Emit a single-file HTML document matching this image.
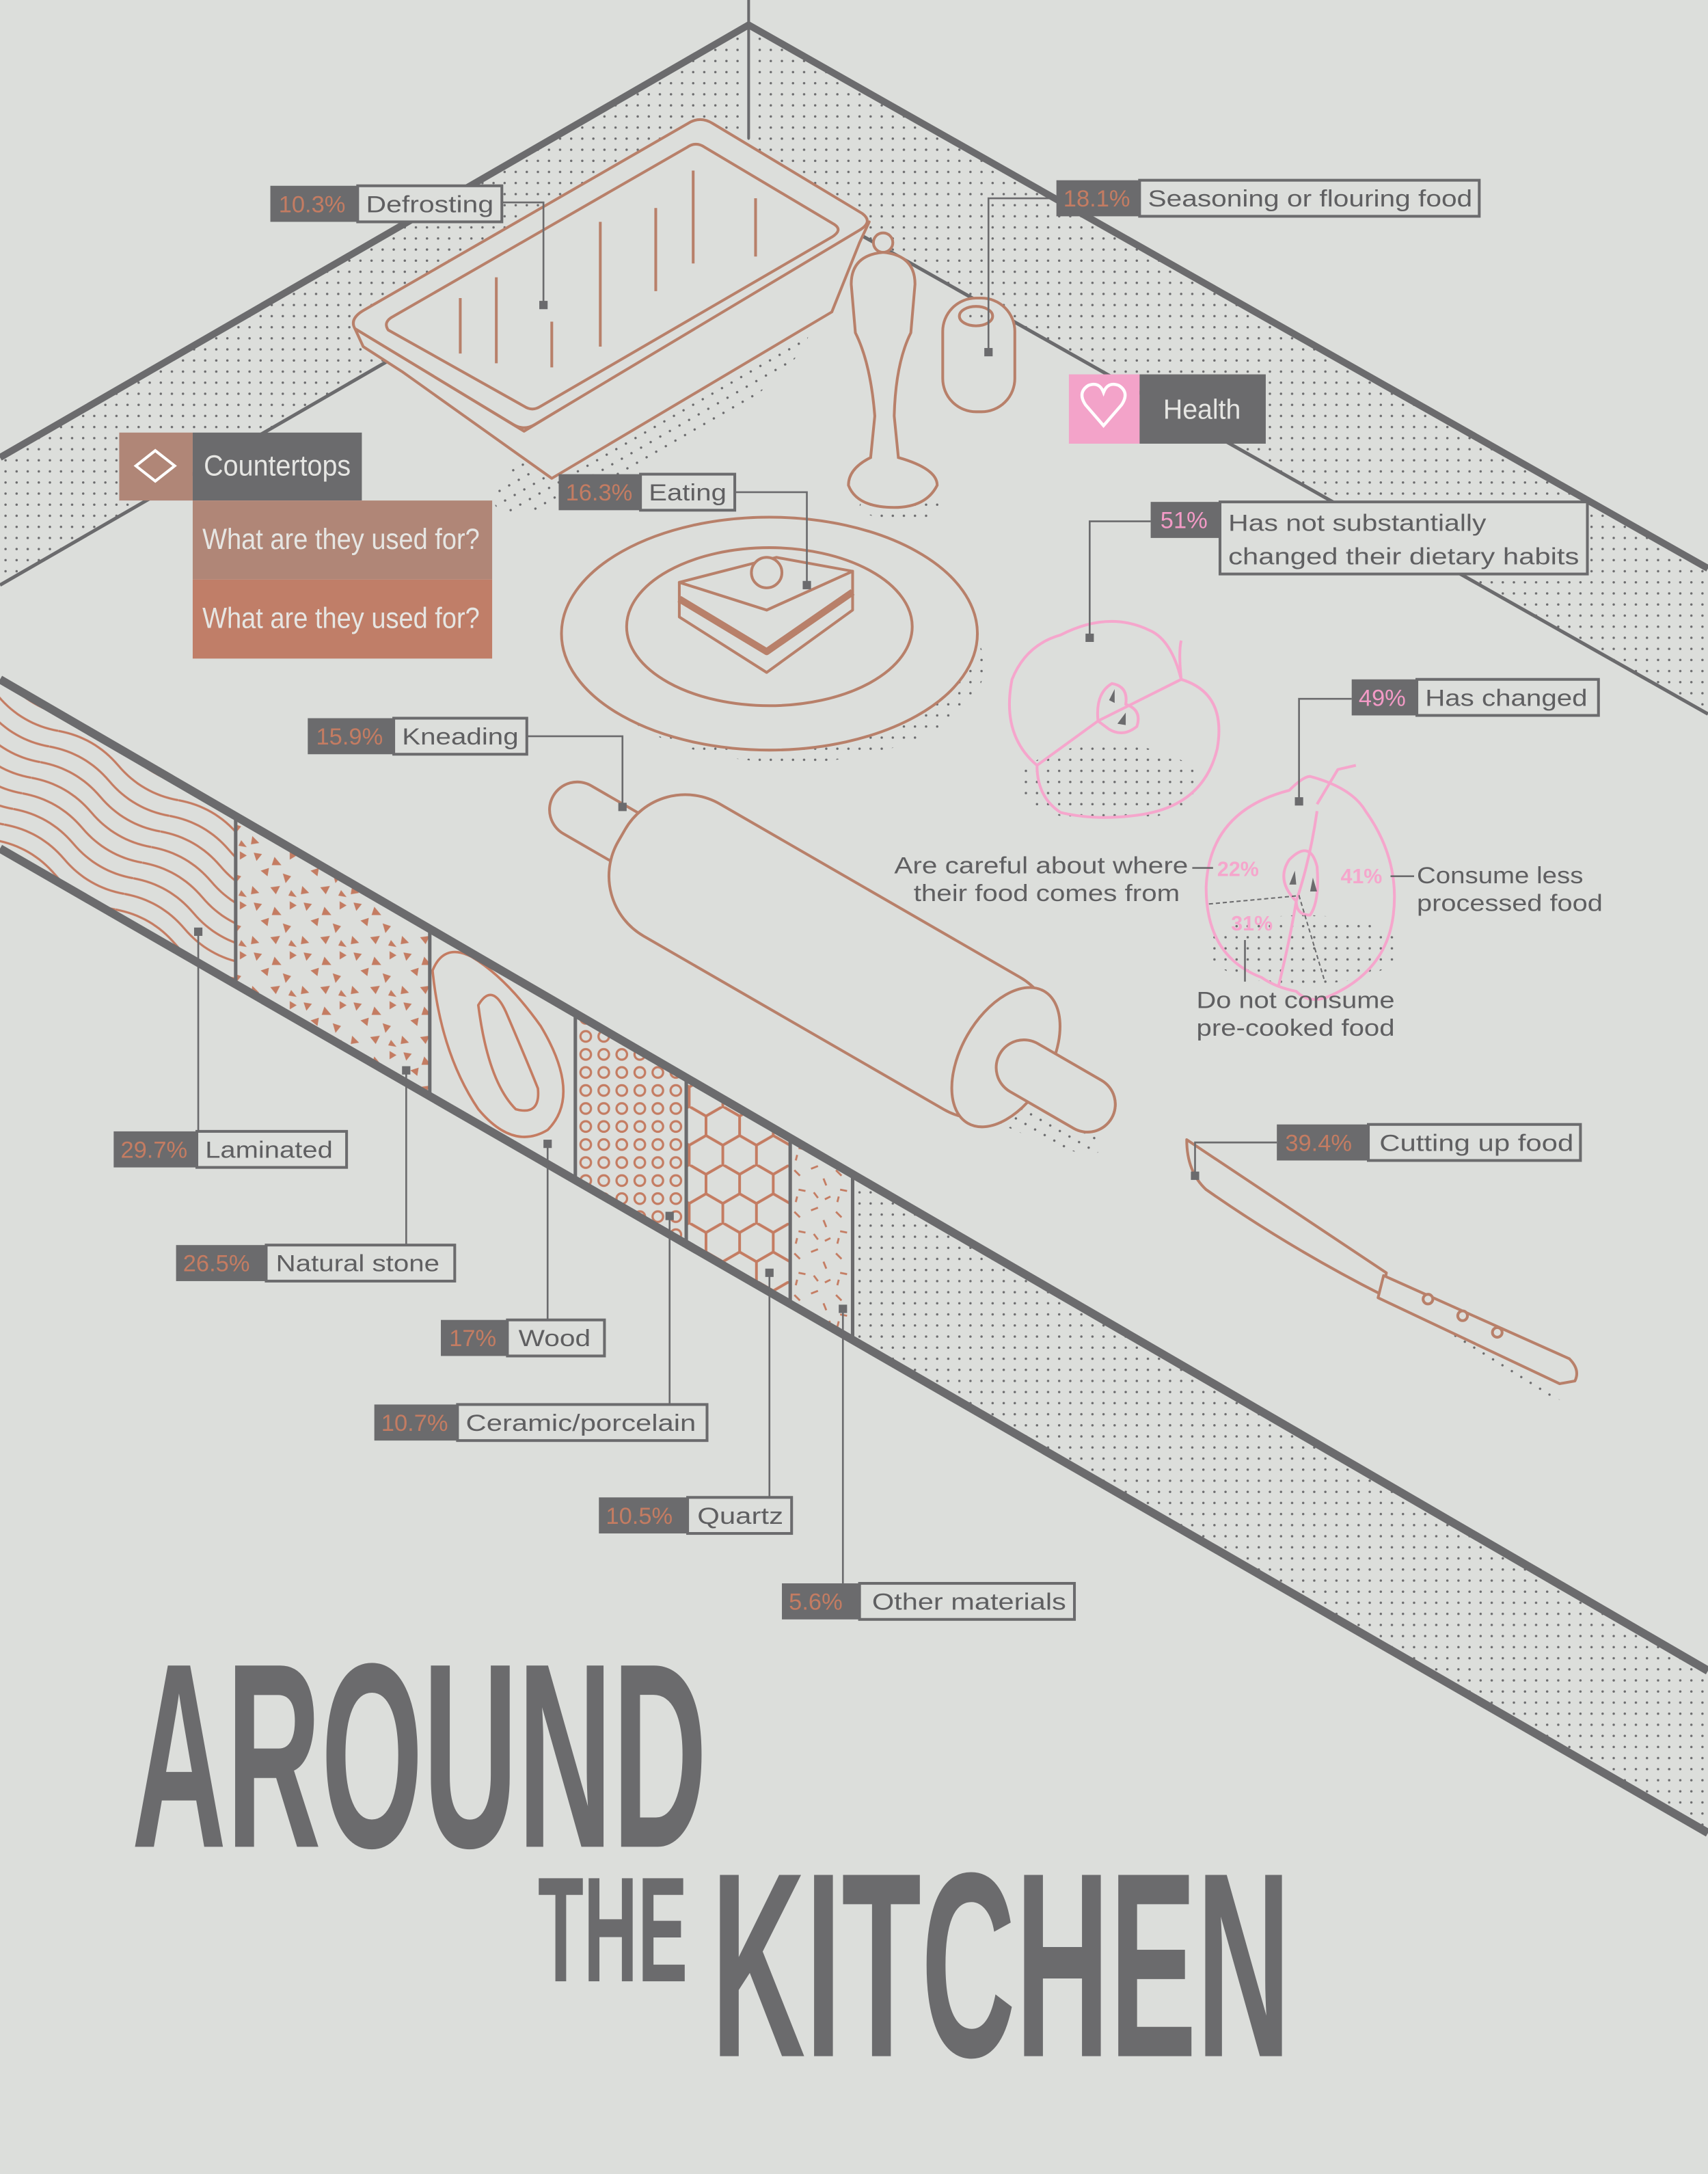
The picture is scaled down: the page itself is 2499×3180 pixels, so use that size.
<!DOCTYPE html>
<html><head><meta charset="utf-8"><style>
html,body{margin:0;padding:0;background:#dcdedb;}
svg{display:block;}
text{font-family:"Liberation Sans",sans-serif;}
.lb{font-size:17px;fill:#5f5f61;}
.pc{font-size:17px;fill:#c47c62;}
.pk{font-size:17px;fill:#f39ac6;}
.nw{font-family:"Liberation Sans",sans-serif;fill:#e6e6e3;}
.tt{font-family:"Liberation Sans",sans-serif;font-weight:bold;fill:#6b6b6d;}
</style></head><body>
<svg width="2499" height="3180" viewBox="0 0 1232 1568" preserveAspectRatio="none" xmlns="http://www.w3.org/2000/svg">
<defs>
<pattern id="dots" width="8" height="8" patternUnits="userSpaceOnUse"><circle cx="4" cy="4" r="0.85" fill="#6b6b6d"/></pattern>
<pattern id="wave" width="100" height="13" patternUnits="userSpaceOnUse" patternTransform="rotate(30)"><path d="M0,6.5 q25,-9 50,0 t50,0" fill="none" stroke="#c47c62" stroke-width="1.6"/></pattern>
<pattern id="circ" width="13" height="13" patternUnits="userSpaceOnUse"><circle cx="6.5" cy="6.5" r="3.8" fill="none" stroke="#c47c62" stroke-width="1.6"/></pattern>
<pattern id="hex" width="42" height="24.25" patternUnits="userSpaceOnUse" patternTransform="rotate(90)"><path d="M0,12.12 L7,0 L21,0 L28,12.12 L21,24.25 L7,24.25 Z M28,12.12 L42,12.12" fill="none" stroke="#c47c62" stroke-width="2"/></pattern>
<pattern id="tri" width="36" height="36" patternUnits="userSpaceOnUse"><g fill="#c47c62"><path d="M3,3 l6,1 l-4,5z"/><path d="M18,6 l5,6 l-7,0z"/><path d="M29,2 l5,3 l-5,3z"/><path d="M8,16 l6,-2 l-1,6z"/><path d="M24,18 l6,2 l-4,5z"/><path d="M2,27 l5,5 l-6,1z"/><path d="M15,28 l7,-1 l-3,6z"/><path d="M30,30 l4,5 l-6,-1z"/></g></pattern>
<pattern id="dash" width="30" height="30" patternUnits="userSpaceOnUse"><g stroke="#c47c62" stroke-width="1.4"><path d="M3,4 l4,4"/><path d="M15,3 l5,-2"/><path d="M24,10 l2,5"/><path d="M6,18 l5,1"/><path d="M17,20 l3,4"/><path d="M25,25 l4,-2"/><path d="M4,27 l1,-4"/></g></pattern>
<clipPath id="strip"><polygon points="0,490 1232,1205 1232,1322 0,612"/></clipPath>
</defs>
<rect width="1232" height="1568" fill="#dcdedb"/>

<polygon points="0,330 540,18 1232,410 1232,515 528,117 0,422" fill="url(#dots)"/>
<path d="M0,330 L540,18 L1232,410" fill="none" stroke="#6b6b6d" stroke-width="5"/>
<path d="M0,422 L528,117 L1232,515" fill="none" stroke="#6b6b6d" stroke-width="2.5"/>
<line x1="540" y1="0" x2="540" y2="100" stroke="#6b6b6d" stroke-width="2"/>

<g clip-path="url(#strip)">
<rect x="615" y="800" width="620" height="600" fill="url(#dots)"/>
<rect x="0" y="480" width="170" height="260" fill="url(#wave)"/>
<rect x="170" y="570" width="140" height="220" fill="url(#tri)"/>
<rect x="415" y="720" width="80" height="200" fill="url(#circ)"/>
<rect x="495" y="770" width="75" height="200" fill="url(#hex)"/>
<rect x="570" y="810" width="45" height="180" fill="url(#dash)"/>
<g fill="none" stroke="#c47c62" stroke-width="1.8">
<path d="M312,700 Q320,680 340,690 Q365,705 390,740 Q420,790 395,815 Q370,830 345,800 Q318,760 312,700Z"/>
<path d="M345,725 Q355,708 365,730 Q380,765 388,785 Q390,805 372,800 Q352,780 345,725Z"/>
</g>
<g stroke="#6b6b6d" stroke-width="2.5"><line x1="170" y1="580" x2="170" y2="720"/><line x1="310" y1="660" x2="310" y2="790"/><line x1="415" y1="720" x2="415" y2="850"/><line x1="495" y1="768" x2="495" y2="900"/><line x1="570" y1="810" x2="570" y2="940"/><line x1="615" y1="840" x2="615" y2="970"/></g>
</g>
<line x1="0" y1="490" x2="1232" y2="1205" stroke="#6b6b6d" stroke-width="6"/>
<line x1="0" y1="612" x2="1232" y2="1322" stroke="#6b6b6d" stroke-width="6"/>

<g fill="url(#dots)">
<ellipse cx="470" cy="300" rx="130" ry="30" transform="rotate(-30 470 300)"/>
<ellipse cx="650" cy="365" rx="30" ry="10"/>
<ellipse cx="570" cy="480" rx="140" ry="70"/>
<ellipse cx="620" cy="730" rx="200" ry="25" transform="rotate(30 620 730)"/>
<ellipse cx="800" cy="565" rx="65" ry="28"/>
<ellipse cx="940" cy="685" rx="70" ry="25"/>
<ellipse cx="1000" cy="930" rx="150" ry="8" transform="rotate(32 1000 930)"/>
</g>

<g fill="#dcdedb" stroke="#b8806a" stroke-width="2" stroke-linejoin="round">
<path d="M262,250 L290,268 L398,345 L600,225 L620,175 L627,160 L378,311 L256,237 Z"/>
<path d="M256,237 Q252,230 262,224 L498,88 Q506,84 514,89 L622,154 Q630,160 620,166 L386,306 Q378,311 370,306 Z"/>
<path d="M280,238 Q276,232 284,228 L496,106 Q502,102 508,106 L602,162 Q608,166 600,171 L390,293 Q384,297 378,293 Z"/>
</g>
<g stroke="#b8806a" stroke-width="2"><line x1="332" y1="215" x2="332" y2="255"/><line x1="358" y1="200" x2="358" y2="262"/><line x1="398" y1="232" x2="398" y2="265"/><line x1="433" y1="160" x2="433" y2="250"/><line x1="473" y1="150" x2="473" y2="210"/><line x1="500" y1="123" x2="500" y2="190"/><line x1="545" y1="143" x2="545" y2="185"/></g>

<g fill="#dcdedb" stroke="#b8806a" stroke-width="2">
<circle cx="637" cy="175" r="7"/>
<path d="M614,205 Q614,184 637,182 Q660,184 660,205 L657,240 Q646,262 645,300 L648,330 Q676,338 676,350 Q668,366 645,366 Q618,366 612,350 Q612,338 628,330 L631,300 Q628,262 617,240 Z"/>
<rect x="680" y="215" width="52" height="82" rx="24"/>
<ellipse cx="704" cy="228" rx="12" ry="7" fill="url(#dots)"/>
</g>

<g fill="#dcdedb" stroke="#b8806a" stroke-width="2" stroke-linejoin="round">
<ellipse cx="555" cy="457" rx="150" ry="84"/>
<ellipse cx="555" cy="452" rx="103" ry="57"/>
<path d="M490,420 L490,445 L553,485 L615,440 L615,412 L553,440 Z"/>
<path d="M490,420 L560,402 L615,412 L553,440 Z"/>
<path d="M490,432 L553,470 L615,427" fill="none" stroke-width="5"/>
<circle cx="553" cy="413" r="11"/>
</g>

<g transform="translate(600,690) rotate(30)" fill="#dcdedb" stroke="#b8806a" stroke-width="2">
<rect x="-232" y="-20" width="465" height="40" rx="20"/>
<rect x="-175" y="-55" width="350" height="110" rx="50"/>
<ellipse cx="145" cy="0" rx="32" ry="55"/>
<rect x="140" y="-20" width="93" height="40" rx="20"/>
</g>

<g fill="#dcdedb" stroke="#b8806a" stroke-width="2" stroke-linejoin="round">
<path d="M856,822 L1000,918 L997,934 Q930,900 870,858 Q856,845 856,822 Z"/>
<path d="M998,920 L1132,980 Q1140,988 1136,996 L1125,998 L994,936 Z"/>
<circle cx="1030" cy="937" r="3.5"/><circle cx="1055" cy="949" r="3.5"/><circle cx="1080" cy="961" r="3.5"/>
</g>

<g fill="none" stroke="#f5a6cc" stroke-width="2" stroke-linejoin="round">
<path d="M765,458 Q800,440 830,455 Q845,462 852,490 Q885,500 878,540 Q868,582 820,588 Q790,592 765,586 Q748,575 748,552 Q722,530 730,490 Q740,465 765,458 Z"/>
<path d="M748,552 L792,520 L852,490"/>
<path d="M852,490 Q850,470 852,462"/>
<path d="M792,520 Q790,500 802,493 Q814,495 812,508 Q824,512 820,524 Q810,532 800,526 Z"/>
<path d="M945,560 Q975,568 985,585 Q1010,620 1005,660 Q1000,700 960,718 Q945,725 935,715 Q920,712 910,705 Q870,690 870,640 Q872,585 930,570 Q940,560 945,560 Z"/>
<path d="M950,580 L965,555 L978,552"/>
<path d="M950,585 Q945,620 935,650 Q930,680 922,712"/>
<path d="M935,650 Q920,635 930,620 Q945,605 950,625 Q952,650 945,660 Q935,660 935,650 Z"/>
</g>
<g fill="#6b6b6d"><path d="M800,505 l4,-8 l0,10z"/><path d="M806,522 l6,-8 l0,9z"/><path d="M930,638 l4,-10 l1,10z"/><path d="M945,643 l2,-10 l3,10z"/></g>
<g stroke="#6b6b6d" stroke-width="1" stroke-dasharray="3,2" fill="none"><path d="M872,652 L937,646 L955,706"/></g>

<g stroke="#6b6b6d" stroke-width="1.3" fill="none">
<path d="M362,146 H392 V220"/><path d="M762,143 H713 V254"/><path d="M530,355 H582 V422"/><path d="M380,531 H449 V582"/>
<path d="M830,376 H786 V460"/><path d="M975,504 H937 V578"/><path d="M921,824 H862 V848"/>
<path d="M143,672 V816"/><path d="M293,772 V898"/><path d="M395,825 V952"/><path d="M483,877 V1013"/><path d="M555,918 V1080"/><path d="M608,944 V1142"/>
<path d="M860,626 H875"/><path d="M1003,632 H1020"/><path d="M898,678 V708"/>
</g>
<g fill="#6b6b6d"><rect x="389" y="217" width="6" height="6"/><rect x="710" y="251" width="6" height="6"/><rect x="579" y="419" width="6" height="6"/><rect x="446" y="579" width="6" height="6"/><rect x="783" y="457" width="6" height="6"/><rect x="934" y="575" width="6" height="6"/><rect x="859" y="845" width="6" height="6"/><rect x="140" y="669" width="6" height="6"/><rect x="290" y="769" width="6" height="6"/><rect x="392" y="822" width="6" height="6"/><rect x="480" y="874" width="6" height="6"/><rect x="552" y="915" width="6" height="6"/><rect x="605" y="941" width="6" height="6"/></g>

<g stroke="#6b6b6d" stroke-width="2" fill="#dcdedb">
<rect x="258" y="134" width="104" height="26"/><rect x="822" y="130" width="245" height="26"/><rect x="462" y="342" width="68" height="26"/><rect x="284" y="518" width="96" height="26"/>
<rect x="880" y="362" width="265" height="52"/><rect x="1022" y="490" width="131" height="26"/><rect x="987" y="811" width="153" height="26"/>
<rect x="142" y="816" width="108" height="26"/><rect x="192" y="898" width="136" height="26"/><rect x="366" y="952" width="70" height="26"/><rect x="330" y="1013" width="180" height="26"/><rect x="496" y="1080" width="75" height="26"/><rect x="620" y="1142" width="155" height="26"/>
</g>
<g fill="#6b6b6d">
<rect x="195" y="134" width="63" height="26"/><rect x="762" y="130" width="60" height="26"/><rect x="403" y="342" width="59" height="26"/><rect x="222" y="518" width="62" height="26"/>
<rect x="830" y="362" width="50" height="26"/><rect x="975" y="490" width="47" height="26"/><rect x="921" y="811" width="66" height="26"/>
<rect x="82" y="816" width="60" height="26"/><rect x="127" y="898" width="65" height="26"/><rect x="318" y="952" width="48" height="26"/><rect x="270" y="1013" width="60" height="26"/><rect x="432" y="1080" width="64" height="26"/><rect x="564" y="1142" width="56" height="26"/>
</g>
<g lengthAdjust="spacingAndGlyphs">
<text class="pc" x="201" y="153">10.3%</text><text class="lb" x="264" y="153" textLength="92" lengthAdjust="spacingAndGlyphs">Defrosting</text>
<text class="pc" x="767" y="149">18.1%</text><text class="lb" x="828" y="149" textLength="234" lengthAdjust="spacingAndGlyphs">Seasoning or flouring food</text>
<text class="pc" x="408" y="361">16.3%</text><text class="lb" x="468" y="361" textLength="56" lengthAdjust="spacingAndGlyphs">Eating</text>
<text class="pc" x="228" y="537">15.9%</text><text class="lb" x="290" y="537" textLength="84" lengthAdjust="spacingAndGlyphs">Kneading</text>
<text class="pk" x="837" y="381">51%</text><text class="lb" x="886" y="383" textLength="186" lengthAdjust="spacingAndGlyphs">Has not substantially</text><text class="lb" x="886" y="407" textLength="253" lengthAdjust="spacingAndGlyphs">changed their dietary habits</text>
<text class="pk" x="980" y="509">49%</text><text class="lb" x="1028" y="509" textLength="117" lengthAdjust="spacingAndGlyphs">Has changed</text>
<text class="pc" x="927" y="830">39.4%</text><text class="lb" x="995" y="830" textLength="140" lengthAdjust="spacingAndGlyphs">Cutting up food</text>
<text class="pc" x="87" y="835">29.7%</text><text class="lb" x="148" y="835" textLength="92" lengthAdjust="spacingAndGlyphs">Laminated</text>
<text class="pc" x="132" y="917">26.5%</text><text class="lb" x="199" y="917" textLength="118" lengthAdjust="spacingAndGlyphs">Natural stone</text>
<text class="pc" x="324" y="971">17%</text><text class="lb" x="374" y="971" textLength="52" lengthAdjust="spacingAndGlyphs">Wood</text>
<text class="pc" x="275" y="1032">10.7%</text><text class="lb" x="336" y="1032" textLength="166" lengthAdjust="spacingAndGlyphs">Ceramic/porcelain</text>
<text class="pc" x="437" y="1099">10.5%</text><text class="lb" x="503" y="1099" textLength="62" lengthAdjust="spacingAndGlyphs">Quartz</text>
<text class="pc" x="569" y="1161">5.6%</text><text class="lb" x="629" y="1161" textLength="140" lengthAdjust="spacingAndGlyphs">Other materials</text>

<text class="lb" x="645" y="630" textLength="212" lengthAdjust="spacingAndGlyphs">Are careful about where</text>
<text class="lb" x="659" y="650" textLength="192" lengthAdjust="spacingAndGlyphs">their food comes from</text>
<text class="lb" x="1022" y="637" textLength="120" lengthAdjust="spacingAndGlyphs">Consume less</text><text class="lb" x="1022" y="657" textLength="134" lengthAdjust="spacingAndGlyphs">processed food</text>
<text class="lb" x="863" y="727" textLength="143" lengthAdjust="spacingAndGlyphs">Do not consume</text><text class="lb" x="863" y="747" textLength="143" lengthAdjust="spacingAndGlyphs">pre-cooked food</text>
</g>
<text x="878" y="632" style="font-size:15px;font-weight:bold;fill:#f5a6cc">22%</text>
<text x="967" y="637" style="font-size:15px;font-weight:bold;fill:#f5a6cc">41%</text>
<text x="888" y="671" style="font-size:15px;font-weight:bold;fill:#f5a6cc">31%</text>

<rect x="771" y="270" width="51" height="50" fill="#f3a3c9"/>
<rect x="822" y="270" width="91" height="50" fill="#6b6b6d"/>
<path d="M796,307 L783,292 Q777,283 785,278 Q793,275 796,283 Q799,275 807,278 Q815,283 809,292 Z" fill="none" stroke="#fff" stroke-width="2.2"/>
<text class="nw" x="839" y="302" font-size="20" textLength="56" lengthAdjust="spacingAndGlyphs">Health</text>
<rect x="86" y="312" width="53" height="49" fill="#b08677"/>
<rect x="139" y="312" width="122" height="49" fill="#6b6b6d"/>
<path d="M98,336 L112,325 L126,336 L112,347 Z" fill="none" stroke="#fff" stroke-width="2"/>
<text class="nw" x="147" y="343" font-size="21" textLength="106" lengthAdjust="spacingAndGlyphs">Countertops</text>
<rect x="139" y="361" width="216" height="57" fill="#b08677"/>
<rect x="139" y="418" width="216" height="57" fill="#c07e68"/>
<text class="nw" x="146" y="396" font-size="21" textLength="200" lengthAdjust="spacingAndGlyphs">What are they used for?</text>
<text class="nw" x="146" y="453" font-size="21" textLength="200" lengthAdjust="spacingAndGlyphs">What are they used for?</text>

<text class="tt" x="95" y="1332" font-size="190" textLength="415" lengthAdjust="spacingAndGlyphs">AROUND</text>
<text class="tt" x="388" y="1429" font-size="108" textLength="108" lengthAdjust="spacingAndGlyphs">THE</text>
<text class="tt" x="513" y="1483" font-size="190" textLength="418" lengthAdjust="spacingAndGlyphs">KITCHEN</text>
</svg>
</body></html>
